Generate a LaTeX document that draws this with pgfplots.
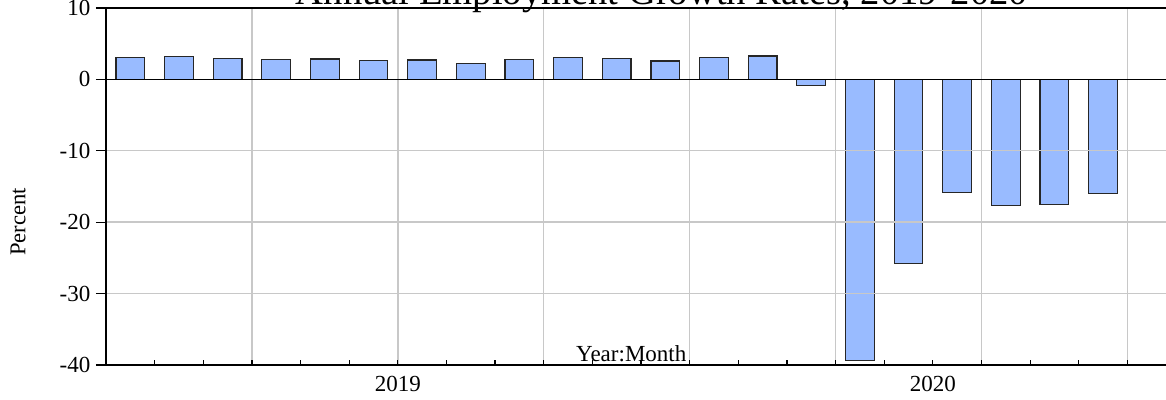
\documentclass[border=0pt]{standalone}
\usepackage{pgfplots}
\pgfplotsset{compat=1.18}
\usepackage{fontspec}
\setmainfont{Liberation Serif}
\definecolor{barfill}{RGB}{153,187,255}
\definecolor{gridgray}{RGB}{200,200,200}
\begin{document}
\begin{tikzpicture}[x=1pt,y=1pt]
\useasboundingbox (0,0) rectangle (583,200);
\clip (0,0) rectangle (583,200);
\begin{axis}[
  at={(53pt,17.5pt)}, anchor=south west,
  scale only axis,
  width=535pt, height=178.5pt,
  xmin=-0.5, xmax=21.5,
  ymin=-40, ymax=10,
  axis on top,
  axis line style={black, line width=0.9pt},
  font=\fontsize{11.5}{13}\selectfont,
  ytick={-40,-30,-20,-10,0,10},
  yticklabels={-40,-30,-20,-10,0,10},
  ytick pos=left,
  ytick align=outside,
  ytick style={black, line width=0.6pt, /pgfplots/major tick length=5pt},
  xtick={2.5,5.5,8.5,11.5,14.5,17.5,20.5},
  xticklabels={},
  minor xtick={0.5,1.5,3.5,4.5,6.5,7.5,9.5,10.5,12.5,13.5,15.5,16.5,18.5,19.5},
  xtick pos=bottom,
  xtick align=inside,
  xtick style={black, line width=0.6pt, /pgfplots/major tick length=2.5pt, /pgfplots/minor tick length=2.5pt},
  extra x ticks={5.5,16.5},
  extra x tick labels={2019,2020},
  extra x tick style={grid=none, /pgfplots/major tick length=0pt, tick label style={yshift=-2pt}},
  xmajorgrids, ymajorgrids,
  grid style={gridgray, line width=0.7pt},
]
\addplot[ybar, bar width=0.59, fill=barfill, draw=black!85, line width=0.6pt] coordinates {
(0,3.03) (1,3.17) (2,2.89) (3,2.8) (4,2.85) (5,2.66) (6,2.71) (7,2.19)
(8,2.75) (9,3.12) (10,2.89) (11,2.57) (12,3.03) (13,3.27)
(14,-0.85) (15,-39.4) (16,-25.8) (17,-15.8) (18,-17.7) (19,-17.5) (20,-16.0)
};
\coordinate (z0) at (axis cs:-0.5,0);
\coordinate (z1) at (axis cs:21.5,0);
\node[anchor=base, inner sep=0pt, font=\fontsize{11.5}{13}\selectfont] at (axis cs:10.3,-40) [yshift=1.5pt] {Year:Month};
\end{axis}
\draw[black, line width=0.7pt] (z0) -- (z1);
\node[rotate=90, font=\fontsize{11.3}{13}\selectfont] at (9,89) {Percent};
\node[anchor=base, inner sep=0pt, font=\fontsize{19.3}{22}\selectfont] at (331,197.75) {Annual Employment Growth Rates, 2019-2020};
\end{tikzpicture}
\end{document}
